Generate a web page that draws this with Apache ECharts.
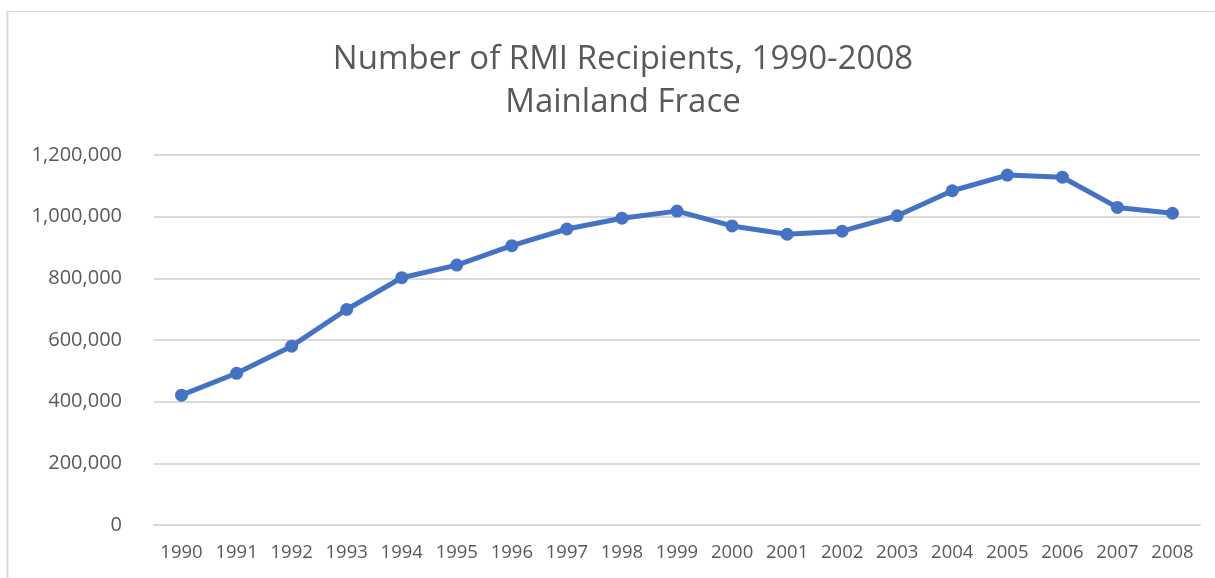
<!DOCTYPE html>
<html>
<head>
<meta charset="utf-8">
<script src="https://cdn.jsdelivr.net/npm/echarts@6/dist/echarts.min.js"></script>
<style>
  html, body { margin: 0; padding: 0; background: #fff; }
  #chart { width: 1215px; height: 578px; }
</style>
</head>
<body>
<div id="chart"></div>
<script>
// years on the x axis
const years = ['1990', '1991', '1992', '1993', '1994', '1995', '1996', '1997', '1998', '1999',
  '2000', '2001', '2002', '2003', '2004', '2005', '2006', '2007', '2008'];
// number of RMI recipients
const recipients = [421000, 492000, 580000, 699000, 802000, 843000, 906000, 960000, 995000, 1018000,
  970000, 943000, 953000, 1003000, 1084000, 1135000, 1128000, 1030000, 1011000];
const yTicks = [0, 200000, 400000, 600000, 800000, 1000000, 1200000];

const chart = echarts.init(document.getElementById('chart'));
chart.setOption({
  animation: false,
  // chart frame (cropped on right and bottom in the original)
  graphic: [
    { type: 'line', shape: { x1: 7.5, y1: 11, x2: 7.5, y2: 578 }, style: { stroke: '#d9d9d9', lineWidth: 2 } },
    { type: 'line', shape: { x1: 7, y1: 11.5, x2: 1215, y2: 11.5 }, style: { stroke: '#d9d9d9', lineWidth: 1 } }
  ],
  title: {
    text: 'Number of RMI Recipients, 1990-2008\nMainland Frace',
    left: 618,
    top: 33,
    textAlign: 'center',
    textStyle: {
      fontFamily: 'Open Sans',
      fontWeight: 'normal',
      fontSize: 33,
      lineHeight: 43,
      color: '#595959'
    }
  },
  grid: { left: 154, right: 15, top: 155, bottom: 53 },
  xAxis: {
    type: 'category',
    data: years,
    boundaryGap: true,
    axisLine: { lineStyle: { color: '#d9d9d9', width: 2 } },
    axisTick: { show: false },
    axisLabel: { interval: 0, color: '#595959', fontSize: 18.5, fontFamily: 'Open Sans', margin: 18 }
  },
  yAxis: {
    type: 'value',
    min: yTicks[0],
    max: yTicks[yTicks.length - 1],
    interval: 200000,
    axisLine: { show: false },
    axisTick: { show: false },
    splitLine: { lineStyle: { color: '#d9d9d9', width: 2 } },
    axisLabel: {
      color: '#595959',
      fontSize: 20,
      fontFamily: 'Open Sans',
      margin: 32,
      formatter: v => v.toLocaleString('en-US')
    }
  },
  series: [{
    type: 'line',
    data: recipients,
    symbol: 'circle',
    symbolSize: 13,
    lineStyle: { color: '#4472C4', width: 5 },
    itemStyle: { color: '#4472C4' }
  }]
});
</script>
</body>
</html>
